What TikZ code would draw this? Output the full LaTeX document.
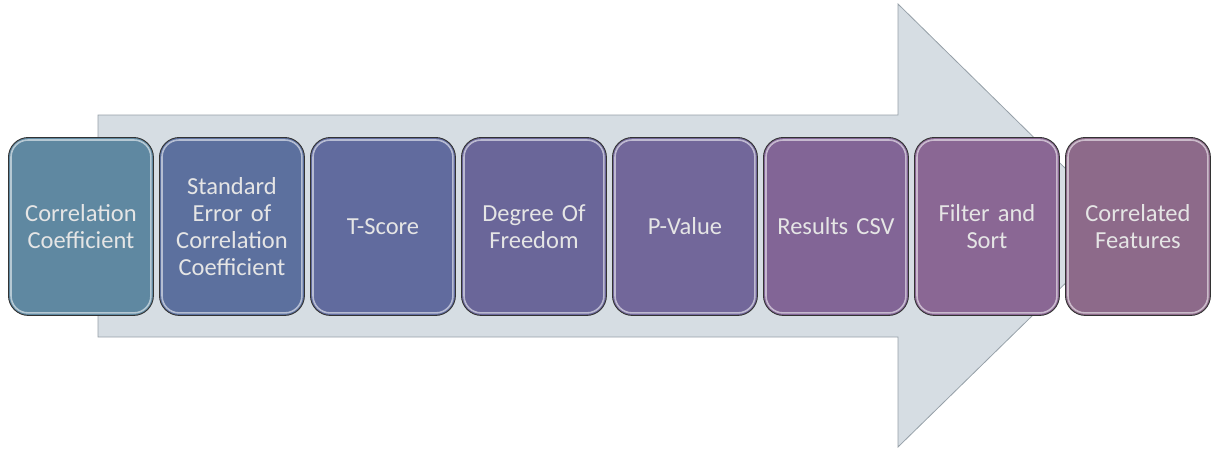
\documentclass[tikz,border=0pt]{standalone}
\usepackage{fontspec}
\setmainfont{Carlito}
\begin{document}
\begin{tikzpicture}[x=1pt,y=-1pt,
  stepbox/.style={draw=black!80, line width=0.9pt, rounded corners=20pt,
    minimum width=145pt, minimum height=178pt, anchor=north west,
    text width=140pt, align=center, text=black!10,
    font=\fontsize{24.5}{27}\selectfont, inner sep=0pt},
  gloss/.style={draw=white, draw opacity=0.55, line width=1.6pt, rounded corners=17pt}]
\useasboundingbox (0,0) rectangle (1212,448);
% big background arrow
\draw[fill={rgb,255:red,214;green,221;blue,227}, draw={rgb,255:red,150;green,160;blue,168}, line width=0.8pt]
  (98,115) -- (898,115) -- (898,4) -- (1124,226) -- (898,447) -- (898,337) -- (98,337) -- cycle;
% process steps
\definecolor{c1}{RGB}{95,136,161}
\definecolor{c2}{RGB}{92,112,158}
\definecolor{c3}{RGB}{97,107,158}
\definecolor{c4}{RGB}{106,102,153}
\definecolor{c5}{RGB}{114,103,154}
\definecolor{c6}{RGB}{130,101,150}
\definecolor{c7}{RGB}{138,103,148}
\definecolor{c8}{RGB}{141,106,138}
\foreach \i/\t in {1/{Correlation\\Coefficient},
                   2/{Standard\\Error of\\Correlation\\Coefficient},
                   3/{T-Score},
                   4/{Degree Of\\Freedom},
                   5/{P-Value},
                   6/{Results CSV},
                   7/{Filter and\\Sort},
                   8/{Correlated\\Features}}{
  \node[stepbox, fill=c\i] (b\i) at ({8+151*(\i-1)},137) {\t};
  \draw[gloss] ([xshift=3pt,yshift=-3pt]b\i.north west) rectangle ([xshift=-3pt,yshift=3pt]b\i.south east);
}
\end{tikzpicture}
\end{document}
